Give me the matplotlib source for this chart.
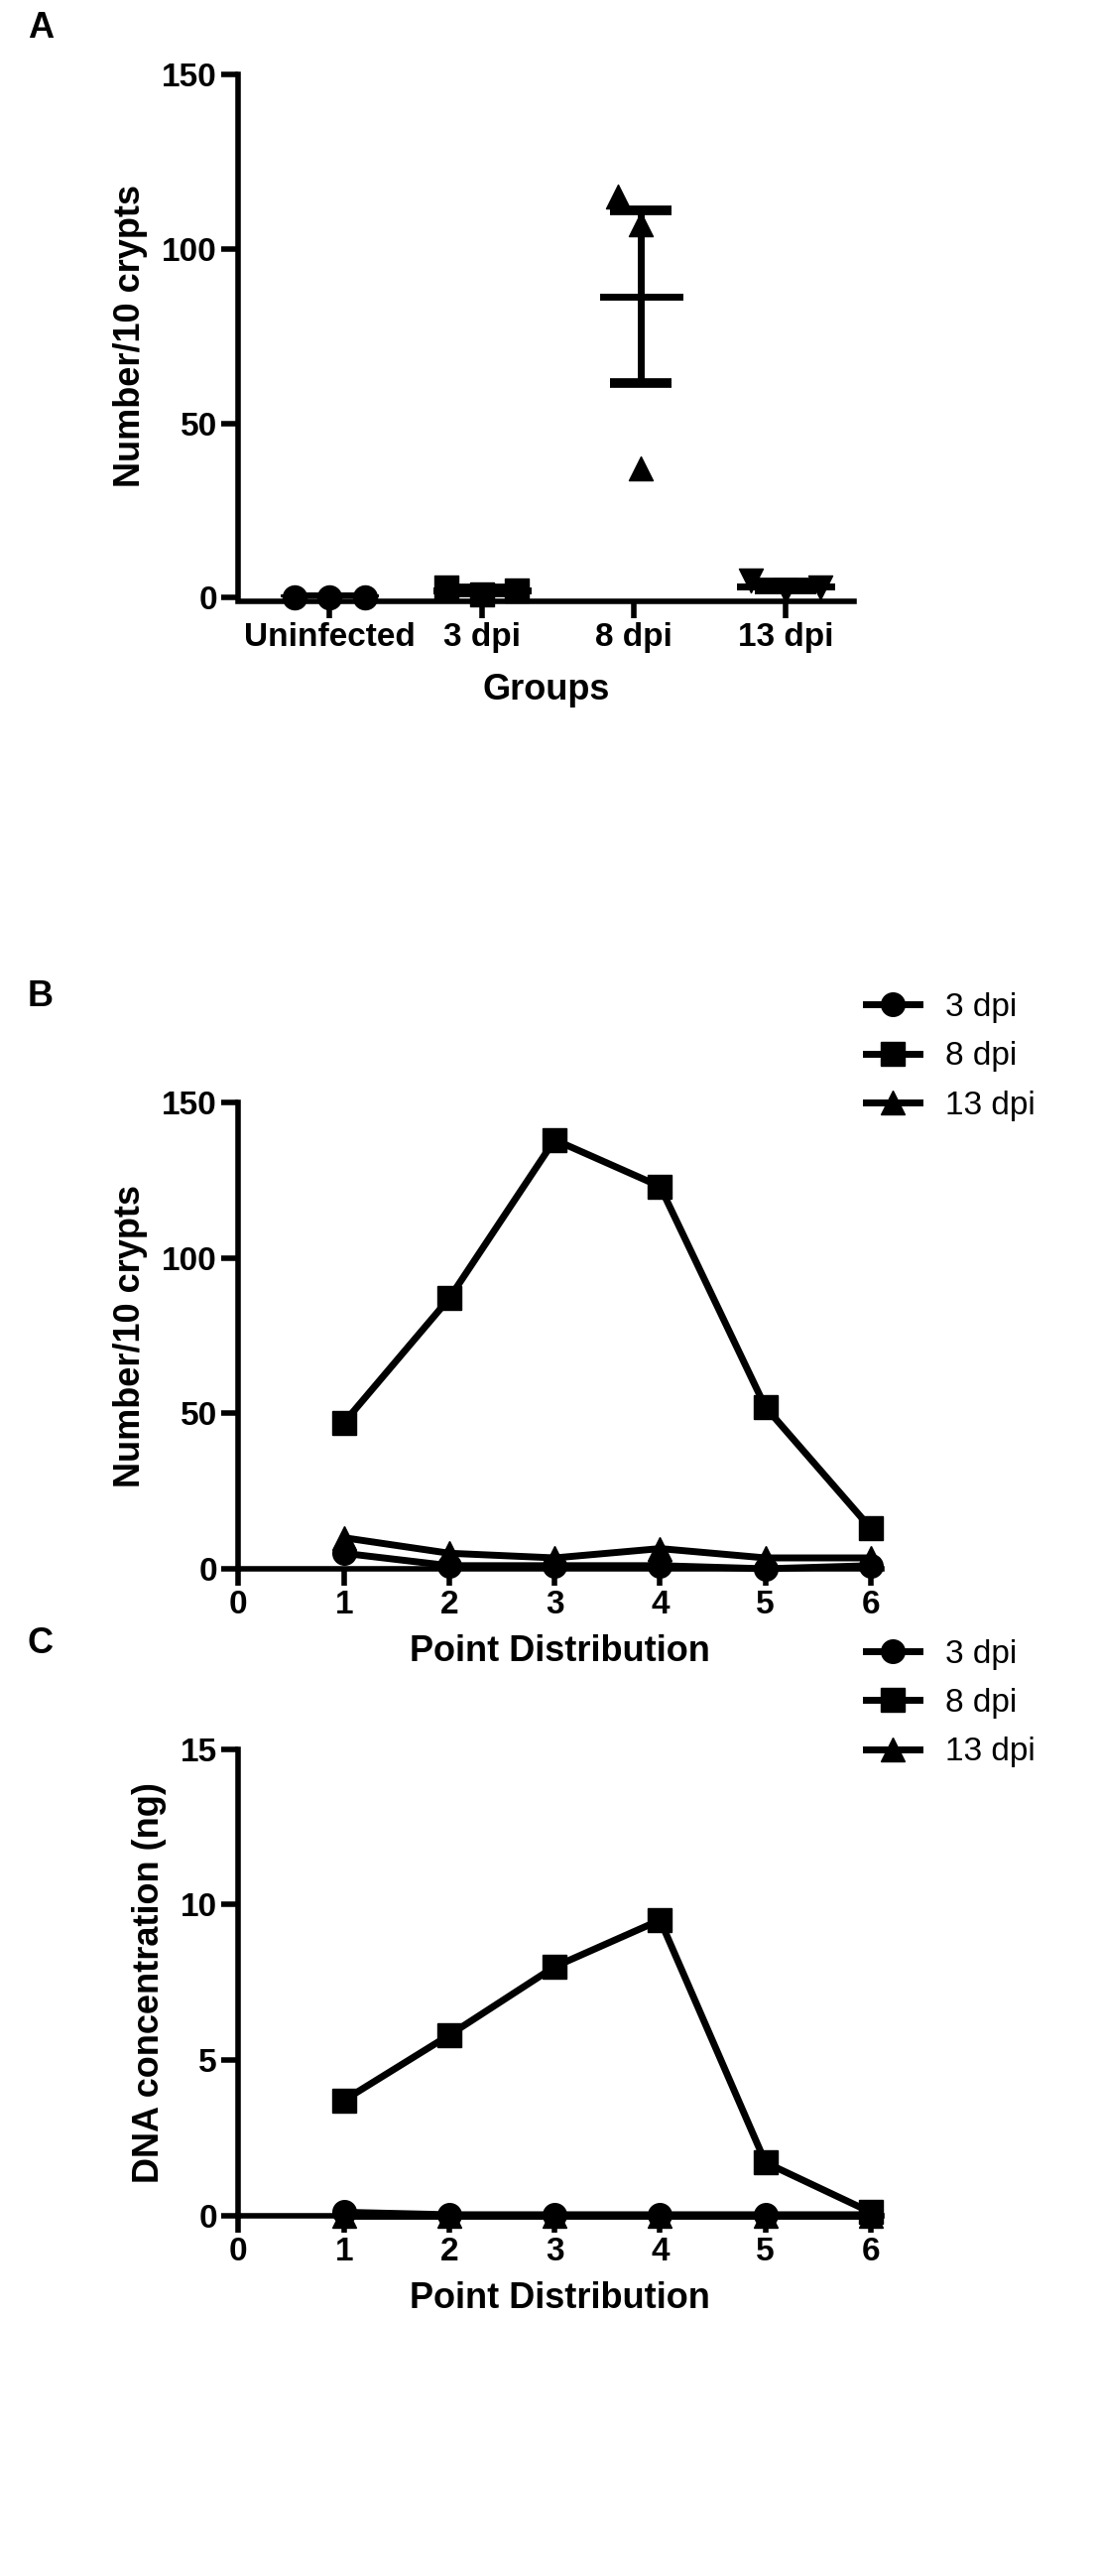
import matplotlib
matplotlib.use('Agg')
import matplotlib.pyplot as plt
import numpy as np

plt.rcParams['font.family'] = 'Liberation Sans'
plt.rcParams['font.weight'] = 'bold'

# Panel A data
groups = ['Uninfected', '3 dpi', '8 dpi', '13 dpi']
grp_vals = [[0, 0, 0], [3, 1, 2], [115, 107, 37], [5, 2, 3]]
grp_markers = ['o', 's', '^', 'v']

# Panels B and C data
points = [1, 2, 3, 4, 5, 6]
series_names = ['3 dpi', '8 dpi', '13 dpi']
series_markers = ['o', 's', '^']
crypts_3dpi = [5, 1, 1, 1, 0, 1]
crypts_8dpi = [47, 87, 138, 123, 52, 13]
crypts_13dpi = [10, 5, 3.5, 6.5, 3.5, 3.5]
dna_3dpi = [0.1, 0.02, 0.02, 0.02, 0.02, 0.02]
dna_8dpi = [3.7, 5.8, 8.0, 9.5, 1.7, 0.1]
dna_13dpi = [0, 0, 0, 0, 0, 0]

fig = plt.figure(figsize=(11.08, 25.96), dpi=100)
FS = 24


def style(ax):
    for s in ['top', 'right']:
        ax.spines[s].set_visible(False)
    for s in ['left', 'bottom']:
        ax.spines[s].set_linewidth(4)
    ax.tick_params(width=4, length=12, labelsize=FS)
    for lab in ax.get_xticklabels() + ax.get_yticklabels():
        lab.set_fontweight('bold')


# Panel A
axA = fig.add_axes([0.217, 0.768, 0.56, 0.203])
for i, vals in enumerate(grp_vals):
    xs = i + np.array([-0.23, 0, 0.23]) if i != 2 else i + np.array([-0.1, 0.05, 0.05])
    axA.scatter(xs, vals, marker=grp_markers[i], s=300, color='black', zorder=3, clip_on=False)
    m = np.mean(vals)
    sem = np.std(vals, ddof=1) / np.sqrt(len(vals))
    axA.errorbar(i + 0.05 if i == 2 else i, m, yerr=sem, color='black', lw=5, capsize=22, capthick=7)
    axA.plot([i - 0.3, i + 0.3] if i != 2 else [i - 0.2, i + 0.3], [m, m], color='black', lw=5)
axA.set_xlim(-0.6, 3.45)
axA.set_ylim(0, 150)
axA.set_yticks([0, 50, 100, 150])
axA.set_xticks(range(4))
axA.set_xticklabels(groups)
axA.set_xlabel('Groups', fontsize=FS + 2, fontweight='bold', labelpad=14)
axA.set_ylabel('Number/10 crypts', fontsize=FS + 2, fontweight='bold', labelpad=10)
style(axA)
axA.spines['bottom'].set_position(('data', -1))


def line_panel(rect, data, ylim, yticks, ylabel):
    ax = fig.add_axes(rect)
    for name, mk, ys in zip(series_names, series_markers, data):
        ax.plot(points, ys, marker=mk, color='black', lw=5, markersize=17, label=name, clip_on=False)
    ax.set_xlim(0, 6.1)
    ax.set_ylim(*ylim)
    ax.set_yticks(yticks)
    ax.set_xticks(range(7))
    ax.set_xlabel('Point Distribution', fontsize=FS + 2, fontweight='bold', labelpad=10)
    ax.set_ylabel(ylabel, fontsize=FS + 2, fontweight='bold', labelpad=10)
    style(ax)
    leg = ax.legend(loc='upper left', bbox_to_anchor=(0.93, 1.3), frameon=False,
                    fontsize=FS, handlelength=1.6, labelspacing=0.55)
    for t in leg.get_texts():
        t.set_fontweight('normal')
    return ax


line_panel([0.217, 0.391, 0.585, 0.181], [crypts_3dpi, crypts_8dpi, crypts_13dpi],
           (0, 150), [0, 50, 100, 150], 'Number/10 crypts')
line_panel([0.217, 0.140, 0.585, 0.181], [dna_3dpi, dna_8dpi, dna_13dpi],
           (0, 15), [0, 5, 10, 15], 'DNA concentration (ng)')

for lab, y in [('A', 0.989), ('B', 0.613), ('C', 0.362)]:
    fig.text(0.025, y, lab, fontsize=FS + 2, fontweight='bold', va='center')

fig.savefig('out.png', dpi=100)
